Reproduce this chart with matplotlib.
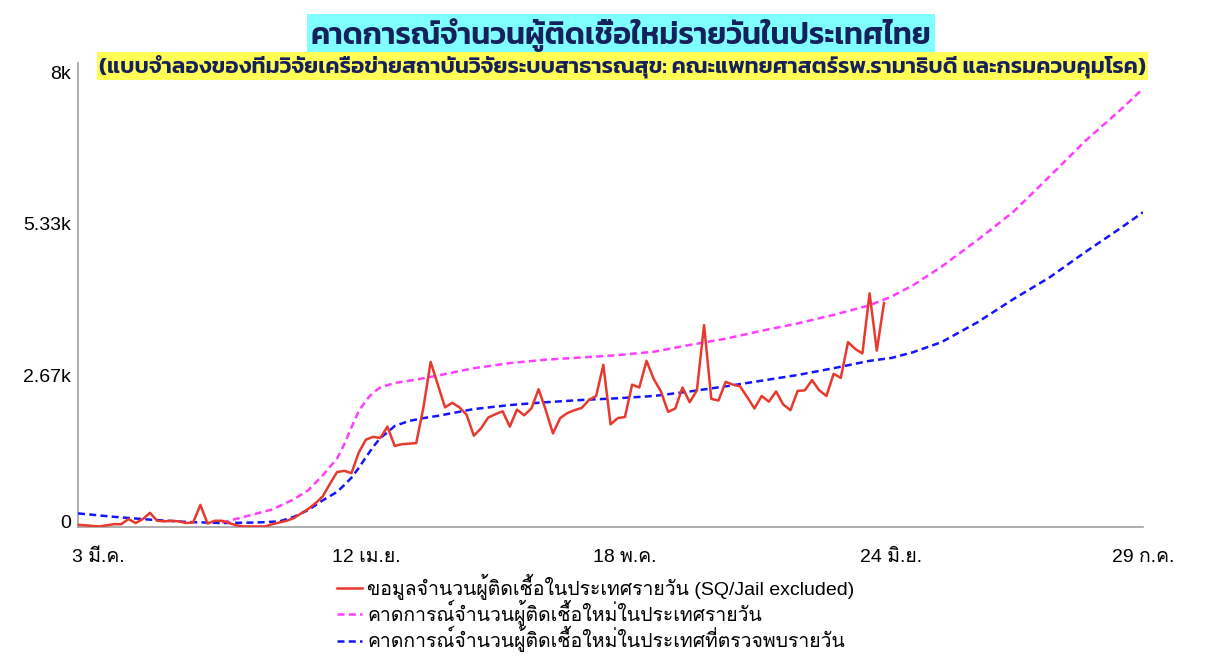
import numpy as np
import matplotlib
matplotlib.use("Agg")
import matplotlib.pyplot as plt
from matplotlib.transforms import ScaledTranslation

plt.rcParams['font.family'] = ['Liberation Sans', 'Loma']

# daily reported cases from 3 Mar 2021 (SQ/Jail excluded)
start = np.datetime64('2021-03-03')
reported = [30, 20, 10, 0, 20, 40, 40, 130, 60, 130,
            240, 100, 90, 100, 90, 60, 70, 380, 50, 100,
            100, 60, 20, 0, 0, 0, 0, 40, 70, 100,
            150, 230, 310, 410, 530, 750, 960, 980, 940, 1300,
            1530, 1580, 1560, 1760, 1420, 1450, 1460, 1470, 2100, 2900,
            2500, 2100, 2180, 2100, 1970, 1600, 1730, 1920, 1980, 2030,
            1760, 2060, 1960, 2080, 2420, 2050, 1640, 1910, 2000, 2050,
            2090, 2230, 2300, 2850, 1800, 1910, 1930, 2500, 2450, 2920,
            2600, 2380, 2020, 2080, 2450, 2190, 2400, 3550, 2250, 2220,
            2550, 2500, 2470, 2280, 2080, 2300, 2200, 2380, 2150, 2050,
            2390, 2400, 2580, 2400, 2300, 2690, 2620, 3250, 3130, 3050,
            4110, 3100, 3940]

# model: projected new daily cases (days after 3 Mar)
proj_days = [20, 24, 27, 30, 32, 34, 36, 37, 38, 39, 40, 41, 42, 44, 47, 50,
             55, 60, 65, 70, 75, 80, 85, 90, 95, 100, 105, 110, 113, 116,
             120, 125, 130, 135, 140, 145, 148]
proj_cases = [70, 200, 300, 480, 640, 900, 1200, 1450, 1750, 2030, 2220, 2360,
              2450, 2530, 2590, 2660, 2790, 2880, 2940, 2980, 3020, 3080, 3200,
              3310, 3450, 3580, 3730, 3900, 4050, 4250, 4580, 5050, 5550, 6170,
              6800, 7360, 7720]

# model: projected detected daily cases
det_days = [0, 5, 10, 15, 20, 25, 28, 30, 32, 34, 36, 37, 38, 39, 40, 41, 42,
            43, 44, 46, 48, 50, 55, 60, 65, 70, 75, 80, 85, 90, 95, 100, 105,
            110, 113, 116, 120, 125, 130, 135, 140, 145, 148]
det_cases = [230, 170, 120, 80, 60, 70, 90, 170, 290, 460, 610, 730, 860, 1030,
             1220, 1400, 1560, 1660, 1770, 1860, 1910, 1950, 2070, 2140, 2190,
             2230, 2260, 2300, 2380, 2470, 2570, 2670, 2790, 2920, 2970, 3070,
             3250, 3600, 4010, 4390, 4840, 5270, 5540]

tick_dates = ['2021-03-03', '2021-04-12', '2021-05-18', '2021-06-24', '2021-07-29']
tick_labels = ['3 มี.ค.', '12 เม.ย.', '18 พ.ค.', '24 มิ.ย.', '29 ก.ค.']
y_ticks = [0, 2667, 5333, 8000]
y_labels = ['0', '2.67k', '5.33k', '8k']

title = 'คาดการณ์จำนวนผู้ติดเชื้อใหม่รายวันในประเทศไทย'
subtitle = ('(แบบจำลองของทีมวิจัยเครือข่ายสถาบันวิจัยระบบสาธารณสุข: '
            'คณะแพทยศาสตร์รพ.รามาธิบดี และกรมควบคุมโรค)')
names = ['ขอมูลจำนวนผู้ติดเชื้อในประเทศรายวัน (SQ/Jail excluded)',
         'คาดการณ์จำนวนผู้ติดเชื้อใหม่ในประเทศรายวัน',
         'คาดการณ์จำนวนผู้ติดเชื้อใหม่ในประเทศที่ตรวจพบรายวัน']

fig = plt.figure(figsize=(12.25, 6.7), dpi=100)
ax = fig.add_axes([0.0637, 0.2134, 0.8694, 0.6925])

rep_dates = start + np.arange(len(reported))
l2, = ax.plot(start + np.array(proj_days), proj_cases, color='#ff3dff',
              lw=1.8, dashes=(2.8, 1.7), zorder=2)
l3, = ax.plot(start + np.array(det_days), det_cases, color='#1414ff',
              lw=1.8, dashes=(2.8, 1.7), zorder=3)
l1, = ax.plot(rep_dates, reported, color='#e8392e', lw=1.8, zorder=4)

ax.set_xlim(start, np.datetime64('2021-07-29'))
ax.set_ylim(-10, 8170)
ax.set_xticks(np.array(tick_dates, dtype='datetime64[D]'))
ax.set_xticklabels(tick_labels)
ax.set_yticks(y_ticks)
ax.set_yticklabels(y_labels)
ax.tick_params(length=0, labelsize=14)
ax.tick_params(axis='x', pad=16)
ax.tick_params(axis='y', pad=5)
for s in ['top', 'right']:
    ax.spines[s].set_visible(False)
for s in ['left', 'bottom']:
    ax.spines[s].set_color('#a0a0a0')
    ax.spines[s].set_linewidth(1.2)

# first date label sits a bit inside the axis, zero label a bit above the baseline
first = ax.get_xticklabels()[0]
first.set_transform(first.get_transform() + ScaledTranslation(0.2, 0, fig.dpi_scale_trans))
zero = ax.get_yticklabels()[0]
zero.set_transform(zero.get_transform() + ScaledTranslation(0, 0.05, fig.dpi_scale_trans))

fig.text(0.507, 0.948, title, ha='center', va='center', fontsize=22,
         family='Kanit', weight='semibold', color='#16205a',
         bbox=dict(boxstyle='square,pad=0.12', fc='#80ffff', ec='none'))
fig.text(0.508, 0.901, subtitle, ha='center', va='center', fontsize=16.2,
         family='Kanit', weight='semibold', color='#16205a',
         bbox=dict(boxstyle='square,pad=0.1', fc='#ffff55', ec='none'))

fig.legend([l1, l2, l3], names, loc='upper left', bbox_to_anchor=(0.269, 0.155),
           frameon=False, fontsize=14, handlelength=1.25, handletextpad=0.3,
           labelspacing=0.0, borderaxespad=0)

fig.savefig('out.png', dpi=100)
